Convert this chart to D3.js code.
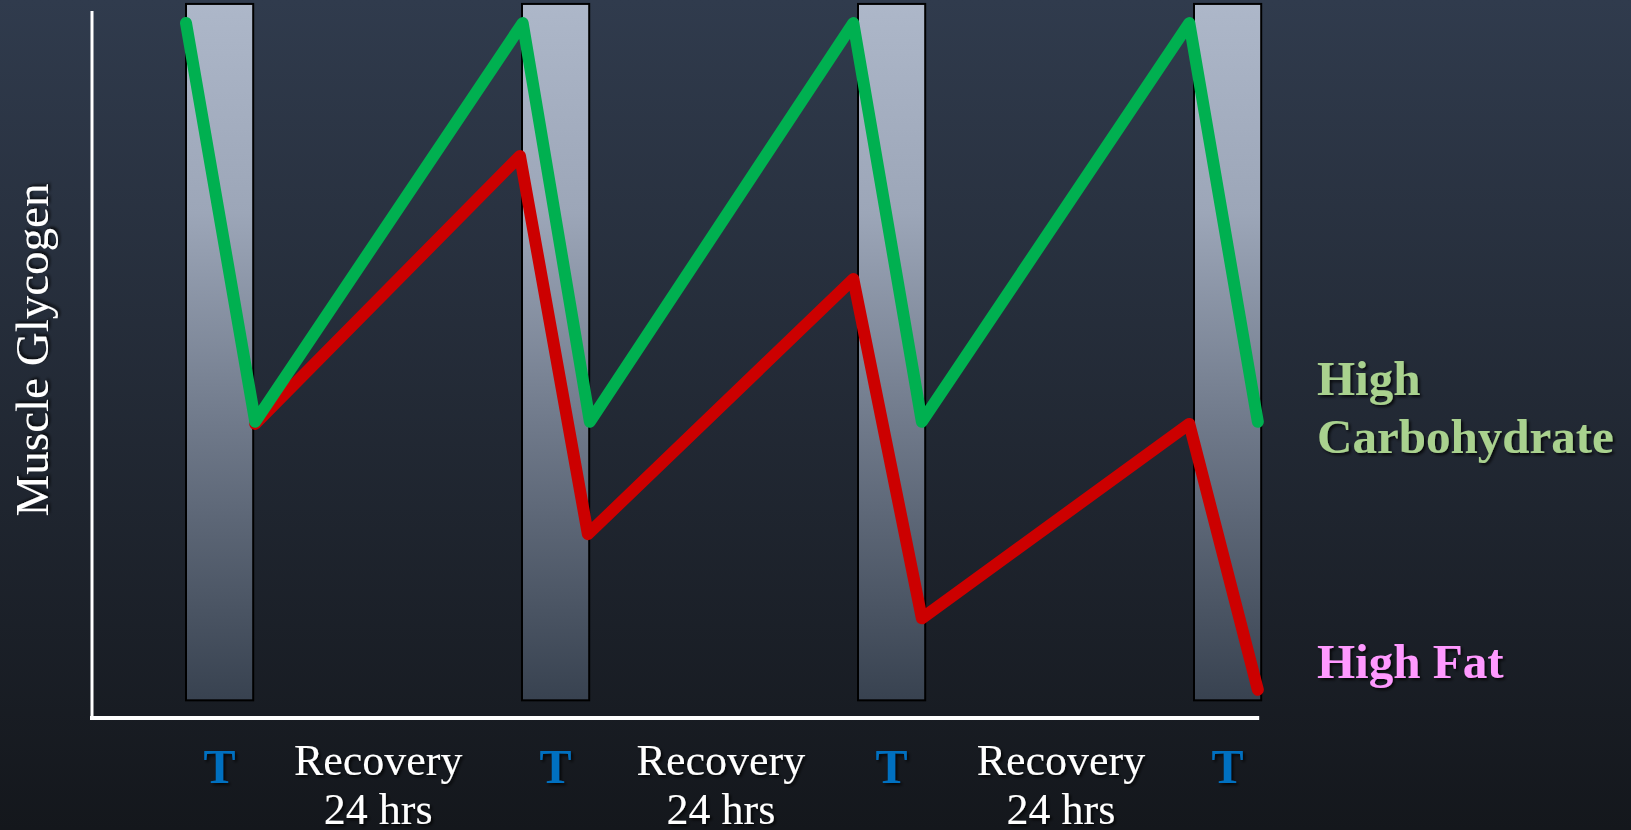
<!DOCTYPE html>
<html><head><meta charset="utf-8">
<script src="https://cdn.jsdelivr.net/npm/d3@7"></script>
<style>html,body{margin:0;padding:0;overflow:hidden;background:#15181d}</style>
</head><body>
<script>
// ---- data ----
const sessionStarts = [0, 5, 10, 15];          // training sessions (start, x units)
const sessionWidth = 1;
const sessionLabel = "T";
const recoveryCenters = [2.86, 7.96, 13.02];
const recoveryLines = ["Recovery", "24 hrs"];
const carbX = [0, 1.03, 5.01, 6.01, 9.93, 10.95, 14.93, 15.95];
const carbY = [98.3, 41.9, 98.3, 41.9, 98.3, 41.9, 98.3, 41.9];
const fatX = [1.03, 4.97, 5.98, 9.93, 10.95, 14.93, 15.95];
const fatY = [41.6, 79.5, 26.0, 62.1, 14.1, 41.6, 4.0];
const yLabel = "Muscle Glycogen";
const legendCarb = ["High", "Carbohydrate"];
const legendFat = "High Fat";

const W = 1631, H = 830;
const svg = d3.select("body").append("svg").attr("width", W).attr("height", H);
const defs = svg.append("defs");
const bg = defs.append("linearGradient").attr("id","bg").attr("x1",0).attr("y1",0).attr("x2",0).attr("y2",1);
bg.append("stop").attr("offset","0%").attr("stop-color","#303b4d");
bg.append("stop").attr("offset","100%").attr("stop-color","#14171c");
const bar = defs.append("linearGradient").attr("id","bar").attr("x1",0).attr("y1",0).attr("x2",0).attr("y2",1);
bar.append("stop").attr("offset","0%").attr("stop-color","#adb7c9");
bar.append("stop").attr("offset","30%").attr("stop-color","#9ca6b8");
bar.append("stop").attr("offset","60%").attr("stop-color","#707a8b");
bar.append("stop").attr("offset","100%").attr("stop-color","#384250");
const sh = defs.append("filter").attr("id","sh").attr("x","-10%").attr("y","-10%").attr("width","130%").attr("height","130%");
sh.append("feDropShadow").attr("dx",2).attr("dy",2).attr("stdDeviation",1.5).attr("flood-color","#000").attr("flood-opacity",0.8);

svg.append("rect").attr("width",W).attr("height",H).attr("fill","url(#bg)");

const x = d3.scaleLinear().domain([0, 16]).range([186, 1261.2]);
const y = d3.scaleLinear().domain([0, 100]).range([718, 11]);

// bars
svg.selectAll("rect.bar").data(sessionStarts).join("rect").attr("class","bar")
  .attr("x", d => x(d)).attr("width", d => x(d + sessionWidth) - x(d))
  .attr("y", y(101)).attr("height", y(2.5) - y(101))
  .attr("fill","url(#bar)").attr("stroke","#000").attr("stroke-width",2);

// axes
const axisX0 = 92;
svg.append("line").attr("x1",axisX0).attr("x2",axisX0).attr("y1",y(100)).attr("y2",y(0)+2)
  .attr("stroke","#fff").attr("stroke-width",3);
svg.append("line").attr("x1",axisX0-2).attr("x2",x(16)-2).attr("y1",y(0)).attr("y2",y(0))
  .attr("stroke","#fff").attr("stroke-width",4);

// lines
const line = d3.line().x(d => x(d[0])).y(d => y(d[1]));
svg.append("path").datum(d3.zip(fatX, fatY)).attr("d", line)
  .attr("fill","none").attr("stroke","#cc0000").attr("stroke-width",12)
  .attr("stroke-linejoin","round").attr("stroke-linecap","round");
svg.append("path").datum(d3.zip(carbX, carbY)).attr("d", line)
  .attr("fill","none").attr("stroke","#00b050").attr("stroke-width",12)
  .attr("stroke-linejoin","round").attr("stroke-linecap","round");

const serif = "'Liberation Serif', 'Times New Roman', serif";
// y label
svg.append("text").attr("transform","translate(48,350) rotate(-90)")
  .attr("text-anchor","middle").attr("font-family",serif).attr("font-size",47)
  .attr("fill","#fff").attr("filter","url(#sh)").text(yLabel);

// T labels
svg.selectAll("text.t").data(sessionStarts).join("text").attr("class","t")
  .attr("x", d => x(d + sessionWidth/2)).attr("y", 783)
  .attr("text-anchor","middle").attr("font-family",serif).attr("font-weight","bold")
  .attr("font-size",48).attr("fill","#0070c0").attr("filter","url(#sh)").text(sessionLabel);

// recovery labels
const rec = svg.selectAll("text.r").data(recoveryCenters).join("text").attr("class","r")
  .attr("x", d => x(d)).attr("y", 775)
  .attr("text-anchor","middle").attr("font-family",serif).attr("font-size",44)
  .attr("fill","#fff").attr("filter","url(#sh)");
rec.selectAll("tspan").data(d => recoveryLines.map(t => [d, t])).join("tspan")
  .attr("x", d => x(d[0])).attr("dy", (d, i) => i ? 49 : 0).text(d => d[1]);

// legend
const lc = svg.append("text").attr("x",1317).attr("y",395).attr("font-family",serif)
  .attr("font-weight","bold").attr("font-size",49).attr("fill","#a9d18e").attr("filter","url(#sh)");
lc.selectAll("tspan").data(legendCarb).join("tspan").attr("x",1317).attr("dy",(d,i)=> i ? 58 : 0).text(d=>d);
svg.append("text").attr("x",1317).attr("y",678).attr("font-family",serif)
  .attr("font-weight","bold").attr("font-size",49).attr("fill","#ff99ff").attr("filter","url(#sh)").text(legendFat);
</script>
</body></html>
